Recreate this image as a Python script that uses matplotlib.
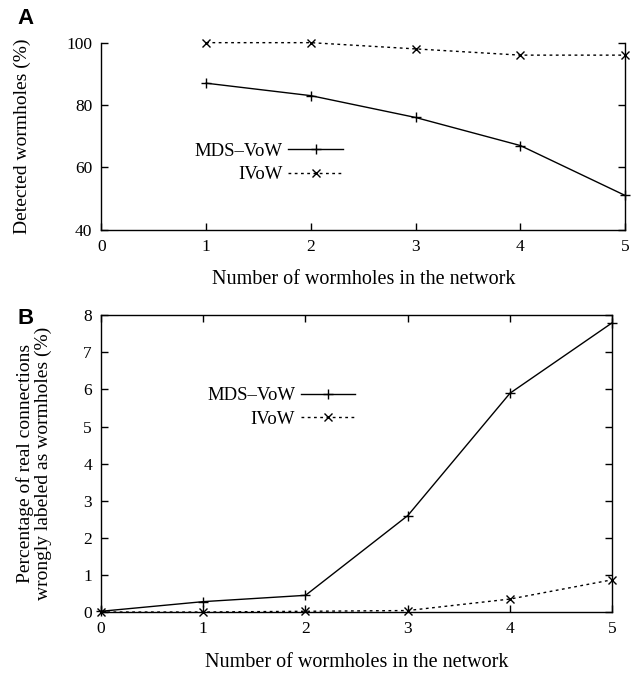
import matplotlib
matplotlib.use("Agg")
import matplotlib.pyplot as plt

plt.rcParams['font.family'] = ['Liberation Serif', 'DejaVu Serif']

# panel A: detection rate
nworm_a = [1, 2, 3, 4, 5]
mds_det = [87, 83, 76, 67, 51]
ivow_det = [100, 100, 98, 96, 96]

# panel B: false positives
nworm_b = [0, 1, 2, 3, 4, 5]
mds_fp = [0.02, 0.28, 0.45, 2.6, 5.9, 7.8]
ivow_fp = [0.0, 0.0, 0.02, 0.04, 0.35, 0.87]

dot = (0, (2, 2.5))
xlab = 'Number of wormholes in the network'

fig = plt.figure(figsize=(6.37, 6.73), dpi=100)


def draw(ax, x, y1, y2):
    ax.plot(x, y1, color='black', lw=1, marker='+', ms=7, mew=1, label='MDS–VoW', clip_on=False)
    ax.plot(x, y2, color='black', lw=1, ls=dot, marker='x', ms=6, mew=1, label='IVoW', clip_on=False)
    ax.set_xlim(0, 5)
    ax.set_xticks(range(0, 6))
    for s in ax.spines.values():
        s.set_linewidth(1)


axA = fig.add_axes([0.1593, 0.6587, 0.8219, 0.2779])
draw(axA, nworm_a, mds_det, ivow_det)
axA.set_ylim(40, 100)
axA.set_yticks([40, 60, 80, 100])
axA.spines['top'].set_visible(False)
axA.tick_params(direction='in', length=5, width=1, labelsize=12.5, right=True, pad=6.5)
axA.set_xlabel(xlab, fontsize=14.5, va='center')
axA.xaxis.set_label_coords(0.5, -0.264)
axA.set_ylabel('Detected wormholes (%)', fontsize=14, va='center')
axA.yaxis.set_label_coords(-0.152, 0.5)
axA.legend(loc='upper right', bbox_to_anchor=(0.461, 0.464), frameon=False, markerfirst=False,
           fontsize=13.5, handlelength=2.9, handletextpad=0.3, labelspacing=0.33,
           borderpad=0, borderaxespad=0)

axB = fig.add_axes([0.1585, 0.0906, 0.8027, 0.4409])
draw(axB, nworm_b, mds_fp, ivow_fp)
axB.set_ylim(0, 8)
axB.set_yticks(range(0, 9))
axB.tick_params(direction='in', length=5, width=1, labelsize=12.5, right=True, top=True, pad=6.5)
axB.set_xlabel(xlab, fontsize=14.5, va='center')
axB.xaxis.set_label_coords(0.5, -0.169)
axB.set_ylabel('Percentage of real connections\nwrongly labeled as wormholes (%)', fontsize=14,
               va='center', linespacing=1.05)
axB.yaxis.set_label_coords(-0.131, 0.5)
axB.legend(loc='upper right', bbox_to_anchor=(0.497, 0.758), frameon=False, markerfirst=False,
           fontsize=13.5, handlelength=2.9, handletextpad=0.3, labelspacing=0.33,
           borderpad=0, borderaxespad=0)

fig.text(0.027, 0.988, 'A', fontsize=16, fontweight='bold', family='Liberation Sans', va='top')
fig.text(0.027, 0.5423, 'B', fontsize=16, fontweight='bold', family='Liberation Sans', va='top')

fig.savefig('out.png', dpi=100)
